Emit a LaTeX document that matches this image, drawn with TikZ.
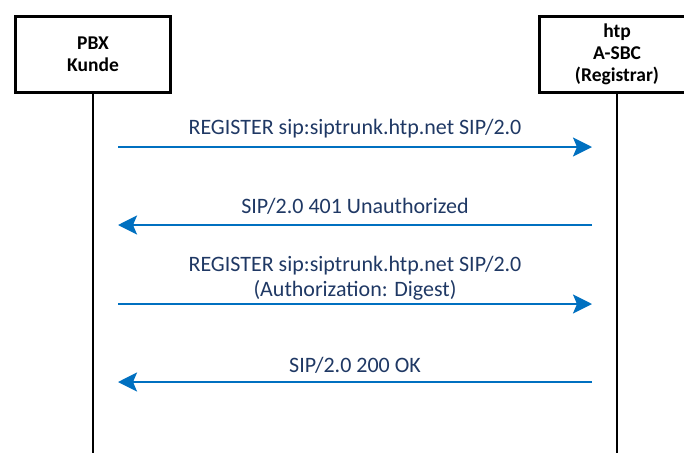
\documentclass[tikz,border=0pt]{standalone}
\usepackage{fontspec}
\setmainfont{Carlito}
\usepackage{tikz}
\usetikzlibrary{arrows.meta,positioning}
\definecolor{msgblue}{RGB}{0,112,192}
\definecolor{msgnavy}{RGB}{31,56,100}

\begin{document}
\begin{tikzpicture}[
  x=1pt, y=-1pt,
  party/.style={rectangle, draw=black, line width=2.6pt, fill=white, minimum width=155pt, minimum height=76pt, align=center, font=\fontsize{19.5}{22}\selectfont\bfseries},
  lifeline/.style={line width=2.6pt, black},
  msg/.style={-{Stealth[length=19pt, width=19pt, inset=4pt]}, line width=2.4pt, msgblue, shorten <=25pt, shorten >=25pt},
  msglabel/.style={anchor=base, text=msgnavy, align=center, font=\fontsize{22}{25}\selectfont}
]
\useasboundingbox (0,0) rectangle (684,453);
\clip (0,0) rectangle (684,453);

% participants
\node[party] (pbx) at (93,54.5) {PBX\\Kunde};
\node[party] (sbc) at (617,54.5) {htp\\A-SBC\\(Registrar)};
\coordinate (pbxend) at (93,453);
\coordinate (sbcend) at (617,453);
\draw[lifeline] (pbx) -- (pbxend);
\draw[lifeline] (sbc) -- (sbcend);

% message points on the lifelines
\coordinate (pbx1) at (93,147);  \coordinate (sbc1) at (617,147);
\coordinate (pbx2) at (93,225);  \coordinate (sbc2) at (617,225);
\coordinate (pbx3) at (93,304);  \coordinate (sbc3) at (617,304);
\coordinate (pbx4) at (93,382);  \coordinate (sbc4) at (617,382);

% messages
\draw[msg] (pbx1) -- (sbc1) node[msglabel, midway, yshift=13pt] (reg1) {REGISTER sip:siptrunk.htp.net SIP/2.0};
\draw[msg] (sbc2) -- (pbx2) node[msglabel, midway, yshift=12pt] (unauth) {SIP/2.0 401 Unauthorized};
\draw[msg] (pbx3) -- (sbc3) node[msglabel, midway, yshift=8pt] (reg2) {REGISTER sip:siptrunk.htp.net SIP/2.0\\(Authorization: Digest)};
\draw[msg] (sbc4) -- (pbx4) node[msglabel, midway, yshift=10pt] (ok) {SIP/2.0 200 OK};
\end{tikzpicture}
\end{document}
